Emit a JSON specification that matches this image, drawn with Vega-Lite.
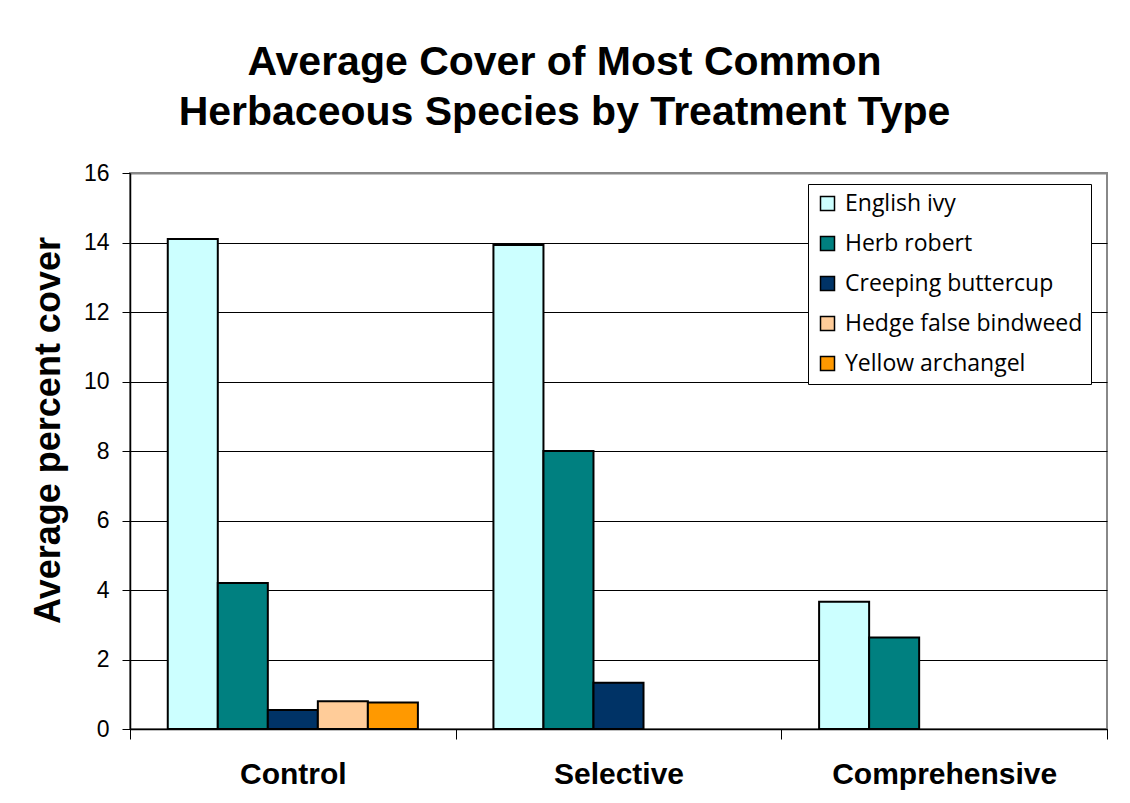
{
  "$schema": "https://vega.github.io/schema/vega-lite/v6.json",
  "width": 977,
  "height": 556,
  "autosize": {"type": "none"},
  "padding": {"left": 130, "top": 173, "right": 23, "bottom": 74},
  "background": "white",
  "title": {
    "text": ["Average Cover of Most Common", "Herbaceous Species by Treatment Type"],
    "font": "Liberation Sans",
    "fontSize": 41,
    "fontWeight": "bold",
    "color": "black",
    "lineHeight": 50,
    "anchor": "middle",
    "frame": "group",
    "dx": -54,
    "offset": 28
  },
  "data": {
    "values": [
      {"treatment": "Control", "species": "English ivy", "cover": 14.1},
      {"treatment": "Control", "species": "Herb robert", "cover": 4.2},
      {"treatment": "Control", "species": "Creeping buttercup", "cover": 0.55},
      {"treatment": "Control", "species": "Hedge false bindweed", "cover": 0.8},
      {"treatment": "Control", "species": "Yellow archangel", "cover": 0.76},
      {"treatment": "Selective", "species": "English ivy", "cover": 13.93},
      {"treatment": "Selective", "species": "Herb robert", "cover": 8.0},
      {"treatment": "Selective", "species": "Creeping buttercup", "cover": 1.33},
      {"treatment": "Comprehensive", "species": "English ivy", "cover": 3.66},
      {"treatment": "Comprehensive", "species": "Herb robert", "cover": 2.63}
    ]
  },
  "mark": {"type": "bar", "stroke": "black", "strokeWidth": 2},
  "encoding": {
    "x": {
      "field": "treatment",
      "type": "nominal",
      "sort": ["Control", "Selective", "Comprehensive"],
      "scale": {"paddingInner": 0, "paddingOuter": 0},
      "axis": {
        "title": null,
        "labelAngle": 0,
        "labelFont": "Liberation Sans",
        "labelFontSize": 30,
        "labelFontWeight": "bold",
        "labelColor": "black",
        "labelPadding": 20,
        "labelLimit": 400,
        "tickBand": "extent",
        "tickSize": 10,
        "tickColor": "black",
        "domainColor": "black",
        "domainWidth": 1.5,
        "grid": false
      }
    },
    "xOffset": {
      "field": "species",
      "type": "nominal",
      "scale": {
        "domain": ["English ivy", "Herb robert", "Creeping buttercup", "Hedge false bindweed", "Yellow archangel"],
        "paddingInner": 0,
        "paddingOuter": 0.755
      }
    },
    "y": {
      "field": "cover",
      "type": "quantitative",
      "scale": {"domain": [0, 16], "nice": false},
      "axis": {
        "title": "Average percent cover",
        "titleFont": "Liberation Sans",
        "titleFontSize": 36,
        "titleFontWeight": "bold",
        "titleColor": "black",
        "titlePadding": 16,
        "titleY": 257,
        "values": [0, 2, 4, 6, 8, 10, 12, 14, 16],
        "labelFont": "Liberation Sans",
        "labelFontSize": 23,
        "labelColor": "black",
        "labelPadding": 13,
        "tickSize": 8,
        "tickColor": "black",
        "domainColor": "black",
        "domainWidth": 1.5,
        "grid": true,
        "gridColor": {"expr": "datum.value == 16 ? '#888888' : 'black'"},
        "gridWidth": {"expr": "datum.value == 16 ? 2 : 1"}
      }
    },
    "color": {
      "field": "species",
      "type": "nominal",
      "scale": {
        "domain": ["English ivy", "Herb robert", "Creeping buttercup", "Hedge false bindweed", "Yellow archangel"],
        "range": ["#CCFFFF", "#008080", "#003366", "#FFCC99", "#FF9900"]
      },
      "legend": {
        "title": null,
        "orient": "none",
        "legendX": 678,
        "legendY": 11,
        "fillColor": "white",
        "strokeColor": "black",
        "padding": 8,
        "symbolType": "square",
        "symbolSize": 196,
        "symbolStrokeColor": "black",
        "symbolStrokeWidth": 1.5,
        "symbolOpacity": 1,
        "labelFont": "Open Sans",
        "labelFontSize": 23,
        "labelColor": "black",
        "labelOffset": 6,
        "labelLimit": 400,
        "rowPadding": 16
      }
    }
  },
  "config": {
    "view": {"stroke": "#888888", "strokeWidth": 2}
  }
}
